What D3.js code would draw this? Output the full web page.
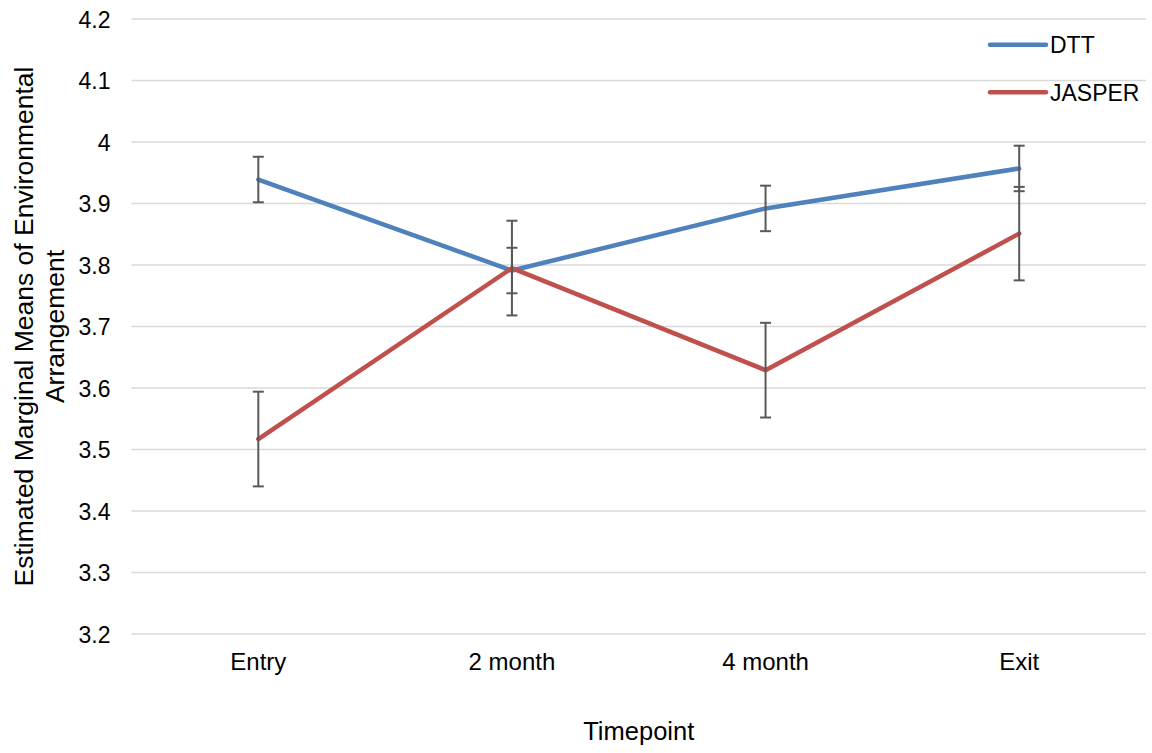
<!DOCTYPE html>
<html>
<head>
<meta charset="utf-8">
<script src="https://cdn.jsdelivr.net/npm/d3@7"></script>
<style>
  body { margin: 0; background: #fff; }
  text { font-family: "Liberation Sans", Arial, sans-serif; fill: #000; }
</style>
</head>
<body>
<svg id="chart" width="1152" height="753"></svg>
<script>
// data
var timepoints = ["Entry", "2 month", "4 month", "Exit"];
var seriesNames = ["DTT", "JASPER"];
var dttMeans = [3.939, 3.791, 3.892, 3.957];
var dttErr = [0.037, 0.037, 0.037, 0.037];
var jasperMeans = [3.517, 3.795, 3.629, 3.851];
var jasperErr = [0.077, 0.077, 0.077, 0.076];
var yTicks = [3.2, 3.3, 3.4, 3.5, 3.6, 3.7, 3.8, 3.9, 4, 4.1, 4.2];
var colors = ["#4F81BD", "#C0504D"];

var svg = d3.select("#chart");
var margin = {left: 131.5, right: 6, top: 19, bottom: 119};
var width = 1152 - margin.left - margin.right,
    height = 753 - margin.top - margin.bottom;

var g = svg.append("g")
    .attr("transform", "translate(" + margin.left + "," + margin.top + ")");

var x = d3.scaleBand().domain(timepoints).range([0, width]);
var y = d3.scaleLinear().domain([3.2, 4.2]).range([height, 0]);

// gridlines
g.append("g")
    .selectAll("line")
    .data(yTicks)
    .enter().append("line")
    .attr("x1", 0)
    .attr("x2", width)
    .attr("y1", function(d) { return y(d); })
    .attr("y2", function(d) { return y(d); })
    .attr("stroke", "#d9d9d9")
    .attr("stroke-width", 1.5);

// y axis labels
var yAxis = g.append("g")
    .call(d3.axisLeft(y).tickValues(yTicks).tickSize(0).tickPadding(21)
        .tickFormat(function(d) { return d3.format("")(+d.toFixed(1)); }));
yAxis.select(".domain").remove();
yAxis.selectAll("text")
    .style("font-size", "23px")
    .attr("dy", "0.36em");

// x axis labels
var xAxis = g.append("g")
    .attr("transform", "translate(0," + height + ")")
    .call(d3.axisBottom(x).tickSize(0));
xAxis.select(".domain").remove();
xAxis.selectAll("text")
    .style("font-size", "24px")
    .attr("y", 36)
    .attr("dy", 0);

var series = [
    {name: seriesNames[0], values: dttMeans, err: dttErr, color: colors[0]},
    {name: seriesNames[1], values: jasperMeans, err: jasperErr, color: colors[1]}
];

var line = d3.line()
    .x(function(d, i) { return x(timepoints[i]) + x.bandwidth() / 2; })
    .y(function(d) { return y(d); });

series.forEach(function(s) {
    g.append("path")
        .datum(s.values)
        .attr("d", line)
        .attr("fill", "none")
        .attr("stroke", s.color)
        .attr("stroke-width", 4.5)
        .attr("stroke-linejoin", "round")
        .attr("stroke-linecap", "round");
});

// error bars on top
var cap = 5.5;
series.forEach(function(s) {
    var eb = g.append("g").selectAll("g")
        .data(s.values)
        .enter().append("g")
        .attr("stroke", "#595959")
        .attr("stroke-width", 2);
    eb.append("line")
        .attr("x1", function(d, i) { return x(timepoints[i]) + x.bandwidth() / 2; })
        .attr("x2", function(d, i) { return x(timepoints[i]) + x.bandwidth() / 2; })
        .attr("y1", function(d, i) { return y(d + s.err[i]); })
        .attr("y2", function(d, i) { return y(d - s.err[i]); });
    [1, -1].forEach(function(sign) {
        eb.append("line")
            .attr("x1", function(d, i) { return x(timepoints[i]) + x.bandwidth() / 2 - cap; })
            .attr("x2", function(d, i) { return x(timepoints[i]) + x.bandwidth() / 2 + cap; })
            .attr("y1", function(d, i) { return y(d + sign * s.err[i]); })
            .attr("y2", function(d, i) { return y(d + sign * s.err[i]); });
    });
});

// legend
var legend = svg.append("g")
    .selectAll("g")
    .data(series)
    .enter().append("g")
    .attr("transform", function(d, i) { return "translate(990," + (44.7 + i * 47.6) + ")"; });
legend.append("line")
    .attr("x1", 0).attr("x2", 56)
    .attr("stroke", function(d) { return d.color; })
    .attr("stroke-width", 4.5)
    .attr("stroke-linecap", "round");
legend.append("text")
    .attr("x", 60)
    .attr("dy", "0.36em")
    .style("font-size", "23px")
    .text(function(d) { return d.name; });

// axis titles
svg.append("text")
    .attr("x", margin.left + width / 2)
    .attr("y", 740)
    .attr("text-anchor", "middle")
    .style("font-size", "25.5px")
    .text("Timepoint");

var yt = svg.append("text")
    .attr("transform", "translate(33.3," + (margin.top + height / 2) + ") rotate(-90)")
    .attr("text-anchor", "middle")
    .style("font-size", "26.5px");
yt.append("tspan").attr("x", 0).attr("y", 0).text("Estimated Marginal Means of Environmental");
yt.append("tspan").attr("x", 0).attr("y", 30.7).text("Arrangement");
</script>
</body>
</html>
